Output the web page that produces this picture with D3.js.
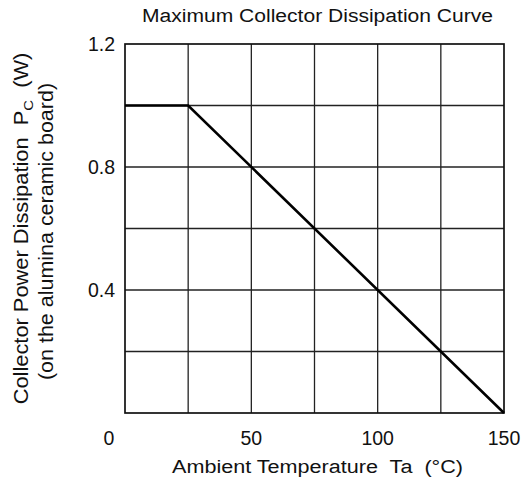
<!DOCTYPE html>
<html><head><meta charset="utf-8">
<script src="https://cdn.jsdelivr.net/npm/d3@7"></script>
<style>body{margin:0;background:#fff}text{font-family:"Liberation Sans",Arial,sans-serif;fill:#111}</style>
</head><body>
<svg id="c" width="521" height="486"></svg>
<script>
const curveTemp = [0, 25, 150];
const curvePower = [1.0, 1.0, 0];
const xTicks = [0, 50, 100, 150];
const yTicks = [0.4, 0.8, 1.2];
const xGrid = [25, 50, 75, 100, 125];
const yGrid = [0.2, 0.4, 0.6, 0.8, 1.0];

const svg = d3.select("#c");
const L = 125, R = 504, T = 44, B = 413;
const x = d3.scaleLinear().domain([0, 150]).range([L, R]);
const y = d3.scaleLinear().domain([0, 1.2]).range([B, T]);

svg.append("g").selectAll("line").data(xGrid).join("line")
  .attr("x1", d => x(d)).attr("x2", d => x(d)).attr("y1", T).attr("y2", B)
  .attr("stroke", "#222").attr("stroke-width", 1.3);
svg.append("g").selectAll("line").data(yGrid).join("line")
  .attr("y1", d => y(d)).attr("y2", d => y(d)).attr("x1", L).attr("x2", R)
  .attr("stroke", "#222").attr("stroke-width", 1.3);
svg.append("rect").attr("x", L).attr("y", T).attr("width", R - L).attr("height", B - T)
  .attr("fill", "none").attr("stroke", "#111").attr("stroke-width", 1.7);

const pts = curveTemp.map((t, i) => [t, curvePower[i]]);
svg.append("path").datum(pts)
  .attr("d", d3.line().x(d => x(d[0])).y(d => y(d[1])))
  .attr("fill", "none").attr("stroke", "#000").attr("stroke-width", 2.6);

svg.append("g").selectAll("text").data(yTicks).join("text")
  .attr("x", 115).attr("y", d => y(d)).attr("dy", "0.36em")
  .attr("text-anchor", "end").attr("font-size", 19.5).text(d => d.toFixed(1));
svg.append("g").selectAll("text").data(xTicks).join("text")
  .attr("x", d => d === 0 ? 109 : x(d)).attr("y", 445)
  .attr("text-anchor", "middle").attr("font-size", 19.5).text(d => d);

svg.append("text").attr("x", 142).attr("y", 22)
  .attr("font-size", 18).attr("textLength", 351).attr("lengthAdjust", "spacingAndGlyphs")
  .text("Maximum Collector Dissipation Curve");
svg.append("text").attr("x", 172).attr("y", 473)
  .attr("font-size", 18).attr("textLength", 291).attr("lengthAdjust", "spacingAndGlyphs")
  .attr("xml:space", "preserve").text("Ambient Temperature  Ta  (°C)");

const cy = (T + B) / 2;
const yl = svg.append("text").attr("transform", `translate(28,${cy}) rotate(-90) scale(1.15,1.05)`)
  .attr("text-anchor", "middle").attr("font-size", 19).attr("xml:space", "preserve");
yl.append("tspan").text("Collector Power Dissipation  P");
yl.append("tspan").attr("font-size", 13).attr("dy", 5).text("C");
yl.append("tspan").attr("dy", -5).text("  (W)");
svg.append("text").attr("transform", `translate(53,${cy + 3}) rotate(-90) scale(1.13,1.05)`)
  .attr("text-anchor", "middle").attr("font-size", 19).text("(on the alumina ceramic board)");
</script>
</body></html>
